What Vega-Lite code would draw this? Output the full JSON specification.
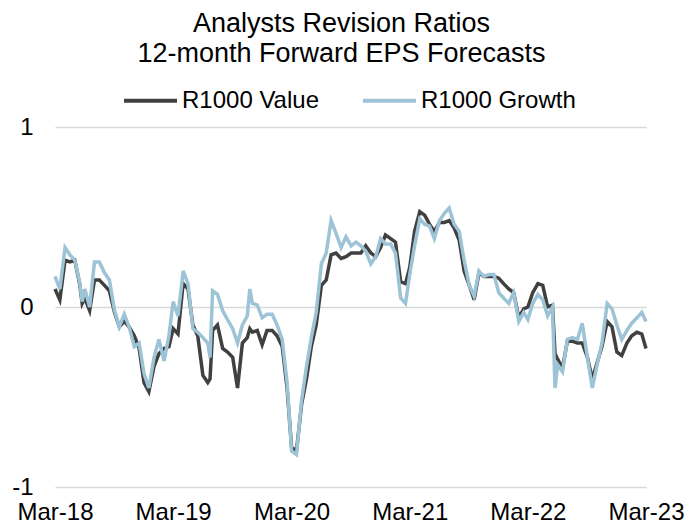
{
  "$schema": "https://vega.github.io/schema/vega-lite/v6.json",
  "width": 591,
  "height": 360,
  "autosize": {"type": "none"},
  "padding": {"left": 55, "top": 127, "right": 53, "bottom": 39},
  "background": "white",
  "config": {
    "font": "Liberation Sans",
    "view": {"stroke": null}
  },
  "title": {
    "text": ["Analysts Revision Ratios", "12-month Forward EPS Forecasts"],
    "fontSize": 27,
    "fontWeight": "normal",
    "font": "Liberation Sans",
    "color": "#000000",
    "lineHeight": 30,
    "anchor": "middle",
    "frame": "group",
    "dx": -9,
    "offset": 4
  },
  "data": {
    "format": {"parse": {"d": "date:'%Y-%m-%d'"}},
    "values": [
      {"d":"2018-03-01","R1000 Value":0.10,"R1000 Growth":0.17},
      {"d":"2018-03-16","R1000 Value":0.04,"R1000 Growth":0.10},
      {"d":"2018-04-01","R1000 Value":0.26,"R1000 Growth":0.33},
      {"d":"2018-04-16","R1000 Value":0.25,"R1000 Growth":0.29},
      {"d":"2018-05-01","R1000 Value":0.26,"R1000 Growth":0.26},
      {"d":"2018-05-16","R1000 Value":0.13,"R1000 Growth":0.14},
      {"d":"2018-05-24","R1000 Value":0.02,"R1000 Growth":0.03},
      {"d":"2018-06-01","R1000 Value":0.05,"R1000 Growth":0.10},
      {"d":"2018-06-16","R1000 Value":-0.02,"R1000 Growth":0.00},
      {"d":"2018-07-01","R1000 Value":0.15,"R1000 Growth":0.25},
      {"d":"2018-07-16","R1000 Value":0.15,"R1000 Growth":0.25},
      {"d":"2018-08-01","R1000 Value":0.12,"R1000 Growth":0.19},
      {"d":"2018-08-16","R1000 Value":0.09,"R1000 Growth":0.15},
      {"d":"2018-09-01","R1000 Value":-0.03,"R1000 Growth":-0.02},
      {"d":"2018-09-16","R1000 Value":-0.11,"R1000 Growth":-0.11},
      {"d":"2018-10-01","R1000 Value":-0.08,"R1000 Growth":-0.04},
      {"d":"2018-10-16","R1000 Value":-0.11,"R1000 Growth":-0.11},
      {"d":"2018-11-01","R1000 Value":-0.16,"R1000 Growth":-0.22},
      {"d":"2018-11-16","R1000 Value":-0.23,"R1000 Growth":-0.20},
      {"d":"2018-12-01","R1000 Value":-0.42,"R1000 Growth":-0.37},
      {"d":"2018-12-16","R1000 Value":-0.47,"R1000 Growth":-0.45},
      {"d":"2019-01-01","R1000 Value":-0.33,"R1000 Growth":-0.28},
      {"d":"2019-01-16","R1000 Value":-0.26,"R1000 Growth":-0.18},
      {"d":"2019-02-01","R1000 Value":-0.23,"R1000 Growth":-0.30},
      {"d":"2019-02-16","R1000 Value":-0.22,"R1000 Growth":-0.16},
      {"d":"2019-03-01","R1000 Value":-0.12,"R1000 Growth":0.03},
      {"d":"2019-03-16","R1000 Value":-0.15,"R1000 Growth":-0.05},
      {"d":"2019-04-01","R1000 Value":0.13,"R1000 Growth":0.20},
      {"d":"2019-04-16","R1000 Value":0.10,"R1000 Growth":0.13},
      {"d":"2019-05-01","R1000 Value":-0.10,"R1000 Growth":-0.12},
      {"d":"2019-05-16","R1000 Value":-0.16,"R1000 Growth":-0.14},
      {"d":"2019-06-01","R1000 Value":-0.38,"R1000 Growth":-0.17},
      {"d":"2019-06-16","R1000 Value":-0.42,"R1000 Growth":-0.20},
      {"d":"2019-06-23","R1000 Value":-0.40,"R1000 Growth":-0.28},
      {"d":"2019-07-01","R1000 Value":-0.13,"R1000 Growth":0.09},
      {"d":"2019-07-16","R1000 Value":-0.10,"R1000 Growth":0.07},
      {"d":"2019-08-01","R1000 Value":-0.23,"R1000 Growth":-0.02},
      {"d":"2019-08-16","R1000 Value":-0.25,"R1000 Growth":-0.07},
      {"d":"2019-09-01","R1000 Value":-0.28,"R1000 Growth":-0.12},
      {"d":"2019-09-16","R1000 Value":-0.45,"R1000 Growth":-0.20},
      {"d":"2019-10-01","R1000 Value":-0.20,"R1000 Growth":-0.10},
      {"d":"2019-10-16","R1000 Value":-0.17,"R1000 Growth":-0.05},
      {"d":"2019-10-24","R1000 Value":-0.12,"R1000 Growth":0.10},
      {"d":"2019-11-01","R1000 Value":-0.14,"R1000 Growth":0.02},
      {"d":"2019-11-16","R1000 Value":-0.13,"R1000 Growth":0.01},
      {"d":"2019-12-01","R1000 Value":-0.21,"R1000 Growth":-0.06},
      {"d":"2019-12-16","R1000 Value":-0.13,"R1000 Growth":-0.04},
      {"d":"2020-01-01","R1000 Value":-0.13,"R1000 Growth":-0.04},
      {"d":"2020-01-16","R1000 Value":-0.16,"R1000 Growth":-0.10},
      {"d":"2020-02-01","R1000 Value":-0.22,"R1000 Growth":-0.18},
      {"d":"2020-02-16","R1000 Value":-0.45,"R1000 Growth":-0.42},
      {"d":"2020-03-01","R1000 Value":-0.78,"R1000 Growth":-0.80},
      {"d":"2020-03-16","R1000 Value":-0.80,"R1000 Growth":-0.82},
      {"d":"2020-04-01","R1000 Value":-0.54,"R1000 Growth":-0.52},
      {"d":"2020-04-16","R1000 Value":-0.40,"R1000 Growth":-0.33},
      {"d":"2020-05-01","R1000 Value":-0.22,"R1000 Growth":-0.17},
      {"d":"2020-05-16","R1000 Value":-0.10,"R1000 Growth":-0.03},
      {"d":"2020-06-01","R1000 Value":0.12,"R1000 Growth":0.24},
      {"d":"2020-06-16","R1000 Value":0.15,"R1000 Growth":0.30},
      {"d":"2020-07-01","R1000 Value":0.29,"R1000 Growth":0.48},
      {"d":"2020-07-16","R1000 Value":0.30,"R1000 Growth":0.41},
      {"d":"2020-08-01","R1000 Value":0.27,"R1000 Growth":0.33},
      {"d":"2020-08-16","R1000 Value":0.28,"R1000 Growth":0.39},
      {"d":"2020-09-01","R1000 Value":0.30,"R1000 Growth":0.34},
      {"d":"2020-09-16","R1000 Value":0.30,"R1000 Growth":0.36},
      {"d":"2020-10-01","R1000 Value":0.30,"R1000 Growth":0.34},
      {"d":"2020-10-16","R1000 Value":0.34,"R1000 Growth":0.31},
      {"d":"2020-11-01","R1000 Value":0.30,"R1000 Growth":0.24},
      {"d":"2020-11-16","R1000 Value":0.28,"R1000 Growth":0.28},
      {"d":"2020-12-01","R1000 Value":0.33,"R1000 Growth":0.38},
      {"d":"2020-12-16","R1000 Value":0.40,"R1000 Growth":0.35},
      {"d":"2021-01-01","R1000 Value":0.38,"R1000 Growth":0.35},
      {"d":"2021-01-16","R1000 Value":0.36,"R1000 Growth":0.30},
      {"d":"2021-02-01","R1000 Value":0.14,"R1000 Growth":0.05},
      {"d":"2021-02-16","R1000 Value":0.13,"R1000 Growth":0.02},
      {"d":"2021-03-01","R1000 Value":0.22,"R1000 Growth":0.18},
      {"d":"2021-03-16","R1000 Value":0.42,"R1000 Growth":0.34},
      {"d":"2021-04-01","R1000 Value":0.53,"R1000 Growth":0.49},
      {"d":"2021-04-16","R1000 Value":0.51,"R1000 Growth":0.46},
      {"d":"2021-05-01","R1000 Value":0.46,"R1000 Growth":0.45},
      {"d":"2021-05-16","R1000 Value":0.42,"R1000 Growth":0.38},
      {"d":"2021-06-01","R1000 Value":0.47,"R1000 Growth":0.48},
      {"d":"2021-06-16","R1000 Value":0.47,"R1000 Growth":0.52},
      {"d":"2021-07-01","R1000 Value":0.48,"R1000 Growth":0.55},
      {"d":"2021-07-16","R1000 Value":0.44,"R1000 Growth":0.46},
      {"d":"2021-08-01","R1000 Value":0.37,"R1000 Growth":0.42},
      {"d":"2021-08-16","R1000 Value":0.20,"R1000 Growth":0.26},
      {"d":"2021-09-01","R1000 Value":0.12,"R1000 Growth":0.12},
      {"d":"2021-09-16","R1000 Value":0.04,"R1000 Growth":0.06},
      {"d":"2021-10-01","R1000 Value":0.19,"R1000 Growth":0.20},
      {"d":"2021-10-16","R1000 Value":0.17,"R1000 Growth":0.17},
      {"d":"2021-11-01","R1000 Value":0.17,"R1000 Growth":0.18},
      {"d":"2021-11-16","R1000 Value":0.17,"R1000 Growth":0.18},
      {"d":"2021-12-01","R1000 Value":0.16,"R1000 Growth":0.08},
      {"d":"2021-12-16","R1000 Value":0.13,"R1000 Growth":0.05},
      {"d":"2022-01-01","R1000 Value":0.10,"R1000 Growth":0.02},
      {"d":"2022-01-16","R1000 Value":0.08,"R1000 Growth":0.08},
      {"d":"2022-02-01","R1000 Value":-0.06,"R1000 Growth":-0.08},
      {"d":"2022-02-16","R1000 Value":-0.01,"R1000 Growth":-0.03},
      {"d":"2022-03-01","R1000 Value":0.00,"R1000 Growth":-0.07},
      {"d":"2022-03-16","R1000 Value":0.08,"R1000 Growth":0.02},
      {"d":"2022-04-01","R1000 Value":0.13,"R1000 Growth":0.07},
      {"d":"2022-04-16","R1000 Value":0.12,"R1000 Growth":0.04},
      {"d":"2022-05-01","R1000 Value":0.00,"R1000 Growth":-0.05},
      {"d":"2022-05-16","R1000 Value":0.01,"R1000 Growth":0.00},
      {"d":"2022-05-24","R1000 Value":-0.26,"R1000 Growth":-0.45},
      {"d":"2022-06-01","R1000 Value":-0.29,"R1000 Growth":-0.32},
      {"d":"2022-06-16","R1000 Value":-0.34,"R1000 Growth":-0.36},
      {"d":"2022-07-01","R1000 Value":-0.19,"R1000 Growth":-0.18},
      {"d":"2022-07-16","R1000 Value":-0.19,"R1000 Growth":-0.17},
      {"d":"2022-08-01","R1000 Value":-0.20,"R1000 Growth":-0.18},
      {"d":"2022-08-16","R1000 Value":-0.20,"R1000 Growth":-0.09},
      {"d":"2022-09-01","R1000 Value":-0.28,"R1000 Growth":-0.28},
      {"d":"2022-09-16","R1000 Value":-0.40,"R1000 Growth":-0.45},
      {"d":"2022-10-01","R1000 Value":-0.31,"R1000 Growth":-0.32},
      {"d":"2022-10-16","R1000 Value":-0.22,"R1000 Growth":-0.20},
      {"d":"2022-11-01","R1000 Value":-0.08,"R1000 Growth":0.02},
      {"d":"2022-11-16","R1000 Value":-0.11,"R1000 Growth":-0.01},
      {"d":"2022-12-01","R1000 Value":-0.25,"R1000 Growth":-0.10},
      {"d":"2022-12-16","R1000 Value":-0.27,"R1000 Growth":-0.18},
      {"d":"2023-01-01","R1000 Value":-0.20,"R1000 Growth":-0.13},
      {"d":"2023-01-16","R1000 Value":-0.16,"R1000 Growth":-0.09},
      {"d":"2023-02-01","R1000 Value":-0.14,"R1000 Growth":-0.06},
      {"d":"2023-02-16","R1000 Value":-0.15,"R1000 Growth":-0.03},
      {"d":"2023-03-01","R1000 Value":-0.23,"R1000 Growth":-0.08}
    ]
  },
  "transform": [
    {"fold": ["R1000 Value", "R1000 Growth"], "as": ["series", "v"]}
  ],
  "encoding": {
    "x": {
      "field": "d",
      "type": "temporal",
      "scale": {"domain": [{"year": 2018, "month": 3, "date": 1}, {"year": 2023, "month": 3, "date": 1}]},
      "axis": {
        "title": null,
        "values": [
          {"year": 2018, "month": 3, "date": 1},
          {"year": 2019, "month": 3, "date": 1},
          {"year": 2020, "month": 3, "date": 1},
          {"year": 2021, "month": 3, "date": 1},
          {"year": 2022, "month": 3, "date": 1},
          {"year": 2023, "month": 3, "date": 1}
        ],
        "format": "%b-%y",
        "labelFontSize": 24,
        "labelColor": "#000000",
        "labelFont": "Liberation Sans",
        "labelPadding": 13,
        "labelOverlap": false,
        "labelFlush": false,
        "grid": false,
        "ticks": false,
        "domain": false
      }
    },
    "y": {
      "field": "v",
      "type": "quantitative",
      "scale": {"domain": [-1, 1], "nice": false},
      "axis": {
        "title": null,
        "values": [-1, 0, 1],
        "labelExpr": "datum.value < 0 ? '-' + abs(datum.value) : '' + datum.value",
        "labelFontSize": 24,
        "labelColor": "#000000",
        "labelFont": "Liberation Sans",
        "labelPadding": 22,
        "grid": true,
        "gridColor": "#d9d9d9",
        "gridWidth": 1.5,
        "ticks": false,
        "domain": false
      }
    },
    "color": {
      "field": "series",
      "type": "nominal",
      "scale": {"domain": ["R1000 Value", "R1000 Growth"], "range": ["#404040", "#9DC3D6"]},
      "legend": {
        "title": null,
        "orient": "none",
        "legendX": 67,
        "legendY": -55,
        "direction": "horizontal",
        "symbolType": "stroke",
        "symbolSize": 2809,
        "symbolStrokeWidth": 4,
        "labelFontSize": 24,
        "labelFont": "Liberation Sans",
        "labelColor": "#000000",
        "labelOffset": 3,
        "columnPadding": 36,
        "padding": 0
      }
    }
  },
  "layer": [
    {
      "transform": [{"filter": "datum.series === 'R1000 Value'"}],
      "mark": {"type": "line", "strokeWidth": 3.5, "interpolate": "linear"}
    },
    {
      "transform": [{"filter": "datum.series === 'R1000 Growth'"}],
      "mark": {"type": "line", "strokeWidth": 3.5, "interpolate": "linear"}
    }
  ]
}
